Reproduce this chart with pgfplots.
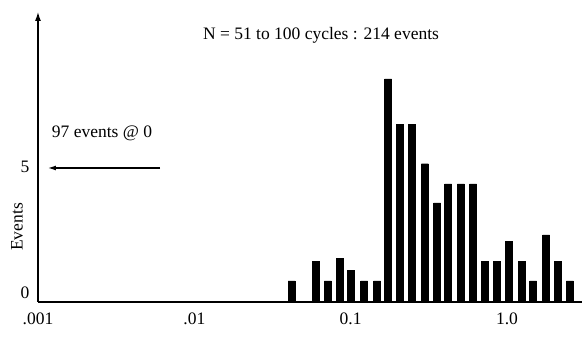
\documentclass[border=0pt]{standalone}
\usepackage{pgfplots}
\pgfplotsset{compat=1.18}
\usepackage{fontspec}
\setmainfont{Liberation Serif}
\usetikzlibrary{arrows.meta}
\newcommand{\fs}{\fontsize{17.5}{21}\selectfont}
\begin{document}
\begin{tikzpicture}[x=1pt,y=1pt,font=\fs]
\path[use as bounding box] (-38,-35) rectangle (544,302);
\begin{axis}[
  at={(0,0)}, anchor=south west,
  scale only axis, width=544pt, height=290pt,
  xmode=log, xmin=0.001, xmax=3.02,
  ymin=0, ymax=10.74,
  axis x line=bottom, axis y line=left,
  x axis line style={-, line width=1.2pt},
  y axis line style={-{Latex[length=9pt,width=6pt]}, line width=1.2pt},
  xtick={0.001,0.01,0.1,1}, xticklabels={.001,.01,0.1,1.0},
  ytick={0.333,5}, yticklabels={0,5},
  major tick length=0pt, minor tick num=0,
  xminorticks=false,
  /pgf/number format/assume math mode=true,
  tick label style={font=\fs},
  xticklabel style={yshift=-7pt},
  yticklabel style={xshift=-5pt},
  clip=false,
  ybar, bar width=7pt,
]
\addplot[fill=black, draw=black, bar shift=0pt] coordinates {
(0.0420,0.78) (0.0601,1.51) (0.0716,0.78) (0.0855,1.62) (0.1007,1.17)
(0.122,0.78) (0.1476,0.78) (0.1734,8.26) (0.207,6.58) (0.247,6.58)
(0.299,5.12) (0.357,3.67) (0.420,4.37) (0.508,4.37) (0.607,4.37)
(0.724,1.51) (0.865,1.51) (1.031,2.25) (1.25,1.51) (1.47,0.78)
(1.78,2.49) (2.12,1.51) (2.53,0.78)
};
\end{axis}
\node[rotate=90] at (-21,75) {Events};
\node at (283,267) {N = 51 to 100 cycles : 214 events};
\node at (64,169) {97 events @ 0};
\draw[-{Latex[length=8pt,width=5pt]}, line width=1.2pt] (122,134) -- (10,134);
\end{tikzpicture}
\end{document}
